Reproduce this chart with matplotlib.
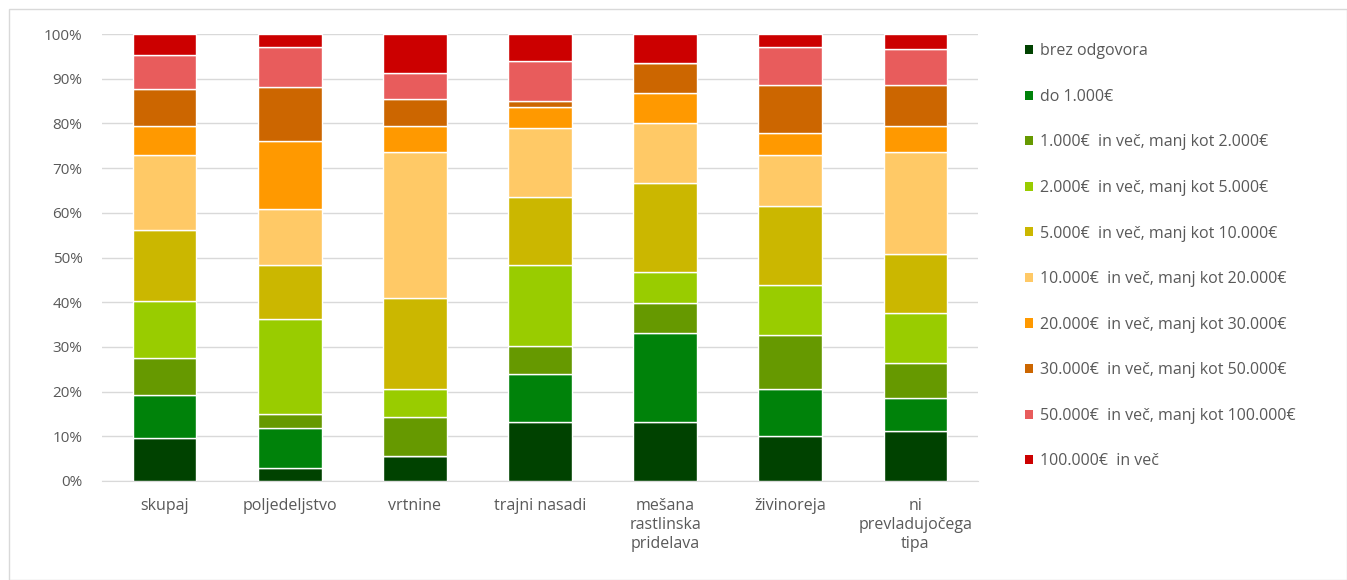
import numpy as np
import matplotlib.pyplot as plt
from matplotlib.patches import Rectangle, Patch
from matplotlib.ticker import PercentFormatter

plt.rcParams['font.family'] = ['Open Sans', 'DejaVu Sans']

# kategorije kmetij
kategorije = ['skupaj', 'poljedeljstvo', 'vrtnine', 'trajni nasadi',
              'mešana\nrastlinska\npridelava', 'živinoreja',
              'ni\nprevladujočega\ntipa']

razredi = ['brez odgovora', 'do 1.000€', '1.000€  in več, manj kot 2.000€',
           '2.000€  in več, manj kot 5.000€', '5.000€  in več, manj kot 10.000€',
           '10.000€  in več, manj kot 20.000€', '20.000€  in več, manj kot 30.000€',
           '30.000€  in več, manj kot 50.000€', '50.000€  in več, manj kot 100.000€',
           '100.000€  in več']

barve = ['#004200', '#00820a', '#669900', '#99cc00', '#cbb700',
         '#ffc966', '#ff9900', '#cc6600', '#e85c5c', '#cc0000']

# deleži (%) po razredih, za vsako kategorijo
brez_odgovora = [9.7, 2.8, 5.6, 13.3, 13.1, 10.0, 11.1]
do_1000 = [9.5, 9.1, 0.0, 10.7, 20.1, 10.5, 7.5]
r_1000_2000 = [8.4, 3.0, 8.8, 6.2, 6.6, 12.1, 7.7]
r_2000_5000 = [12.7, 21.3, 6.1, 18.2, 7.0, 11.3, 11.3]
r_5000_10000 = [15.9, 12.1, 20.5, 15.2, 19.9, 17.6, 13.1]
r_10000_20000 = [16.8, 12.6, 32.7, 15.3, 13.4, 11.5, 23.0]
r_20000_30000 = [6.5, 15.1, 5.8, 4.7, 6.8, 4.8, 5.8]
r_30000_50000 = [8.2, 12.1, 6.0, 1.3, 6.7, 10.9, 9.2]
r_50000_100000 = [7.7, 9.0, 5.8, 9.1, 0.0, 8.4, 7.9]
nad_100000 = [4.6, 2.9, 8.7, 6.0, 6.4, 2.9, 3.4]

serije = [brez_odgovora, do_1000, r_1000_2000, r_2000_5000, r_5000_10000,
          r_10000_20000, r_20000_30000, r_30000_50000, r_50000_100000, nad_100000]

fig = plt.figure(figsize=(13.47, 5.80), dpi=100)
ax = fig.add_axes([102 / 1347, 1 - 481 / 580, 876 / 1347, 447 / 580])

x = np.arange(len(kategorije))
spodaj = np.zeros(len(kategorije))
for vals, barva, ime in zip(serije, barve, razredi):
    v = np.array(vals) / 100
    ax.bar(x, v, bottom=spodaj, width=0.51, color=barva, edgecolor='white',
           linewidth=1, label=ime, zorder=3)
    spodaj += v

ax.set_ylim(0, 1)
ax.set_xlim(-0.5, len(kategorije) - 0.5)
ax.set_yticks(np.arange(0, 1.01, 0.1))
ax.yaxis.set_major_formatter(PercentFormatter(1.0, decimals=0))
ax.grid(axis='y', color='#d9d9d9', linewidth=1, zorder=0)
ax.set_xticks(x)
ax.set_xticklabels(kategorije, linespacing=1.25)
ax.tick_params(axis='x', length=0, labelsize=11.5, colors='#595959', pad=12)
ax.tick_params(axis='y', length=0, labelsize=11, colors='#595959', pad=14)
for s in ['left', 'right', 'top']:
    ax.spines[s].set_visible(False)
ax.spines['bottom'].set_color('#d9d9d9')

rocaji = [Patch(facecolor=b, edgecolor='none') for b in barve]
fig.legend(rocaji, razredi, loc='upper left', bbox_to_anchor=(1019 / 1347, 1 - 37 / 580),
           frameon=False, fontsize=11.5, labelcolor='#595959', handlelength=0.5,
           handleheight=0.5, handletextpad=0.4, labelspacing=1.85, borderaxespad=0)

# okvir grafikona
fig.patches.append(Rectangle((9 / 1347, 0.0), 1 - 9 / 1347, 1 - 9 / 580,
                             transform=fig.transFigure, fill=False,
                             edgecolor='#d9d9d9', linewidth=1))

fig.savefig('out.png', dpi=100)
